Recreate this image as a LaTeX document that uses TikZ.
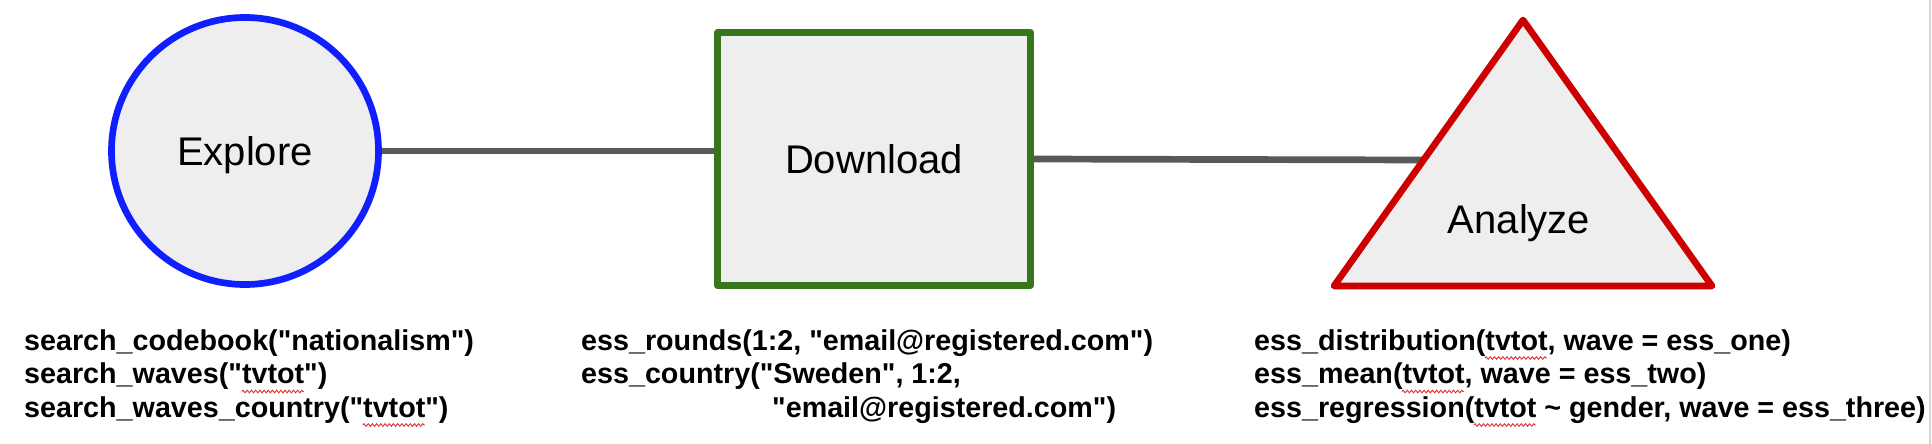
\documentclass[tikz,border=0pt]{standalone}
\usepackage{fontspec}
\setmainfont{Liberation Sans}[Ligatures=TeXOff]
\usetikzlibrary{calc,backgrounds,decorations.pathmorphing}
\definecolor{eblue}{HTML}{0F1FFF}
\definecolor{dgreen}{HTML}{38761D}
\definecolor{dred}{HTML}{CC0000}
\definecolor{linegray}{HTML}{595959}
\definecolor{shapefill}{HTML}{EEEEEE}
\definecolor{edgegray}{HTML}{D4D4D4}
\definecolor{spellred}{HTML}{E03030}
\begin{document}
\begin{tikzpicture}[x=1pt,y=-1pt,
  shapebox/.style={line width=6.7pt, fill=shapefill, line join=round, inner sep=0pt},
  lbl/.style={font=\fontsize{40}{48}\selectfont, text height=28.6pt, text depth=0pt, inner sep=0pt},
  code/.style={font=\fontsize{28.7}{33.5}\selectfont\bfseries, anchor=base west, inner sep=0pt},
  conn/.style={draw=linegray, line width=6.7pt},
  spell/.style={draw=spellred, line width=0.9pt, decorate,
    decoration={zigzag, amplitude=1.3pt, segment length=4.2pt}}]
\useasboundingbox (0,0) rectangle (1932,444);

% shapes
\node[shapebox, lbl, circle, draw=eblue, minimum size=267pt] (explore) at (245,151) {Explore};
\node[shapebox, lbl, rectangle, draw=dgreen, minimum width=313pt, minimum height=253pt] (download) at (874,159) {Download};
\coordinate (tl) at (1334,286);
\coordinate (ta) at (1523,20);
\coordinate (tr) at (1712,286);
\draw[shapebox, draw=dred] (tl) -- (ta) -- (tr) -- cycle;
\node[lbl] (analyze) at (1519,219) {Analyze};
\coordinate (tin) at ($(tl)!0.4737!(ta)$);

% background and connectors
\begin{pgfonlayer}{background}
\fill[white] (0,0) rectangle (1932,444);
\draw[edgegray, line width=2pt] (1930,0) -- (1930,444);
\draw[conn] (explore.east) -- (explore.east -| download.west);
\draw[conn] (download.east) -- (tin);
\end{pgfonlayer}

% code lines
\node[code] (c1a) at (24,350) {search\_codebook("nationalism")};
\node[code] (c1b) at (24,383.5) {search\_waves("tvtot")};
\node[code] (c1c) at (24,417) {search\_waves\_country("tvtot")};

\node[code] (c2a) at (581,350) {ess\_rounds(1:2, "email@registered.com")};
\node[code] (c2b) at (581,383.5) {ess\_country("Sweden", 1:2,};
\node[code] (c2c) at (772,417) {"email@registered.com")};

\node[code] (c3a) at (1254,350) {ess\_distribution(tvtot, wave = ess\_one)};
\node[code] (c3b) at (1254,383.5) {ess\_mean(tvtot, wave = ess\_two)};
\node[code] (c3c) at (1254,417) {ess\_regression(tvtot \textasciitilde{} gender, wave = ess\_three)};

% spell-check marks
\draw[spell] ($(c1b.base west)+(218,8)$) -- ++(62,0);
\draw[spell] ($(c1c.base west)+(339,8)$) -- ++(62,0);
\draw[spell] ($(c3a.base west)+(231,8)$) -- ++(62,0);
\draw[spell] ($(c3b.base west)+(148,8)$) -- ++(62,0);
\draw[spell] ($(c3c.base west)+(220,8)$) -- ++(62,0);
\end{tikzpicture}
\end{document}
